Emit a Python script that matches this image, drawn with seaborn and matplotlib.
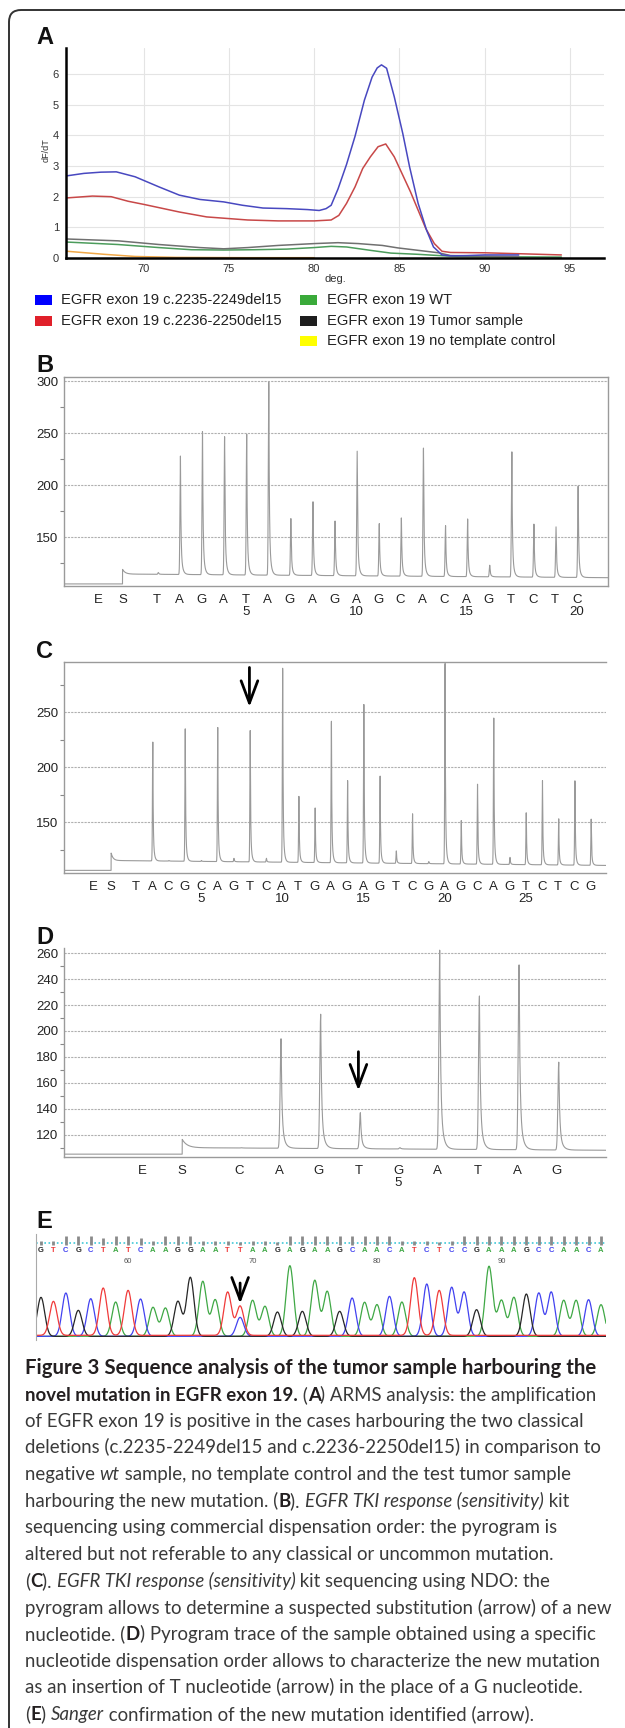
import numpy as np
import seaborn as sns
import matplotlib.pyplot as plt
from matplotlib.patches import FancyBboxPatch, Rectangle
from matplotlib.transforms import IdentityTransform
from matplotlib.ticker import MultipleLocator

sns.set_style("white")
plt.rcParams['font.family'] = ['Liberation Sans', 'DejaVu Sans']

W, H = 625, 1728

# ---------------- data ----------------
# A: melting curves, temperature (deg) vs dF/dT
blue_t = [65.5, 66.5, 67.5, 68.4, 69.5, 70.9, 72.1, 73.3, 74.7, 75.8, 77.0, 78.4, 79.6, 80.3, 80.7,
          81.0, 81.4, 81.9, 82.4, 82.95, 83.4, 83.7, 83.95, 84.25, 84.7, 85.2, 85.6, 86.1, 86.6,
          87.0, 87.5, 88.0, 89.0, 90.0, 91.0, 92.0]
blue_v = [2.68, 2.76, 2.8, 2.81, 2.65, 2.32, 2.05, 1.91, 1.83, 1.72, 1.63, 1.61, 1.58, 1.55, 1.61,
          1.72, 2.25, 3.05, 3.97, 5.15, 5.9, 6.2, 6.3, 6.19, 5.26, 4.06, 2.97, 1.78, 0.9,
          0.36, 0.1, 0.07, 0.08, 0.1, 0.1, 0.1]
red_t = [65.5, 67.0, 68.1, 69.1, 70.0, 72.1, 73.7, 74.9, 76.1, 77.9, 80.0, 81.0, 81.45, 81.9, 82.4,
         82.85, 83.3, 83.75, 84.2, 84.7, 85.15, 85.65, 86.1, 86.55, 87.05, 87.5, 88.0, 90.0, 92.0, 94.5]
red_v = [1.96, 2.02, 2.0, 1.85, 1.75, 1.5, 1.34, 1.29, 1.24, 1.21, 1.21, 1.24, 1.39, 1.78, 2.32,
         2.92, 3.3, 3.63, 3.72, 3.3, 2.76, 2.16, 1.56, 0.96, 0.47, 0.22, 0.18, 0.17, 0.14, 0.1]
tumor_t = [65.5, 68.5, 70.9, 73.3, 74.7, 76.1, 77.9, 80.0, 81.4, 82.6, 84.0, 84.9, 86.1, 87.3, 88.0, 90.0, 92.0]
tumor_v = [0.62, 0.56, 0.44, 0.34, 0.3, 0.34, 0.41, 0.47, 0.5, 0.47, 0.41, 0.33, 0.25, 0.17, 0.08, 0.06, 0.05]
wt_t = [65.5, 68.5, 70.9, 72.8, 74.7, 76.5, 78.4, 80.0, 81.0, 81.9, 83.3, 84.5, 86.1, 87.3, 88.4, 91.0, 94.5]
wt_v = [0.52, 0.44, 0.34, 0.27, 0.26, 0.27, 0.29, 0.34, 0.38, 0.36, 0.25, 0.16, 0.12, 0.08, 0.05, 0.04, 0.03]
ntc_t = [65.5, 67.7, 69.5, 71.9, 76.0, 80.0]
ntc_v = [0.22, 0.12, 0.05, 0.02, 0.01, 0.01]

legend_labels = ["EGFR exon 19 c.2235-2249del15", "EGFR exon 19 c.2236-2250del15",
                 "EGFR exon 19 WT", "EGFR exon 19 Tumor sample", "EGFR exon 19 no template control"]
legend_colors = ["#0000ff", "#e0202a", "#3aaa3a", "#1e1e1e", "#ffff00"]

# B: pyrogram, commercial dispensation order
B_disp = list("TAGATAGAGAGCACAGTCTC")
B_peaks = [116, 228, 253, 247, 249, 301, 168, 184, 166, 233, 163, 169, 236, 161, 168, 123, 232, 163, 160, 199]

# C: pyrogram, NDO
C_disp = list("TACGCAGTCATGAGAGTCGAGCAGTCTCG")
C_peaks = [114, 223, 115, 236, 115, 238, 117, 234, 117, 294, 174, 163, 243, 189, 258, 192, 124, 158,
           114, 295, 152, 185, 245, 118, 159, 188, 153, 189, 153]

# D: pyrogram, specific dispensation order
D_disp = list("CAGTGATAG")
D_peaks = [110, 194, 213, 137, 110, 263, 227, 251, 176]

# E: Sanger chromatogram
E_seq = list("GTCGCTATCAAGGAATTAAGAGAAGCAACATCTCCGAAAGCCAACA")
E_heights = [117, 102, 130, 78, 113, 142, 103, 135, 112, 87, 85, 105, 177, 165, 110, 130, 88, 108,
             90, 73, 212, 75, 168, 135, 75, 115, 102, 95, 120, 103, 173, 157, 135, 147, 133, 80,
             210, 108, 117, 127, 130, 133, 108, 108, 110, 95]
E_qual = [0.4, 0.4, 1, 1, 1, 0.8, 1, 1, 0.8, 0.4, 1, 1, 1, 0.5, 0.5, 0.5, 0.3, 0.4, 0.4, 0.3,
          1, 1, 1, 1, 1, 1, 1, 1, 1, 0.5, 0.5, 0.5, 0.3, 0.5, 1, 1, 1, 1, 1, 1, 1, 1, 1, 1, 1, 1]
E_numbers = {7: "60", 17: "70", 27: "80", 37: "90"}
E_second = [(16, "C", 57)]
base_colors = {"A": "#3fa845", "C": "#4242f0", "G": "#262626", "T": "#f03a3a"}


def box(l, t, r, b):
    return [l / W, 1 - b / H, (r - l) / W, (b - t) / H]


fig = plt.figure(figsize=(W / 100, H / 100), dpi=100)
fig.patch.set_facecolor("white")

# outer rounded frame
fig.patches.append(FancyBboxPatch((9, -30), 700, H - 10 + 30, boxstyle="round,pad=0,rounding_size=12",
                                  transform=IdentityTransform(), fill=False, ec="#333333", lw=1.4))

for lab, y in [("A", 37), ("B", 366), ("C", 651), ("D", 937), ("E", 1221)]:
    fig.text(36 / W, 1 - y / H, lab, fontsize=17, fontweight="bold", va="center", ha="left", color="#111")

# ---------------- A ----------------
axA = fig.add_axes(box(66, 48, 604, 258))
for t, v, c in [(ntc_t, ntc_v, "#f0a848"), (wt_t, wt_v, "#4c9c5c"), (tumor_t, tumor_v, "#707070"),
                (red_t, red_v, "#c84848"), (blue_t, blue_v, "#4848c0")]:
    sns.lineplot(x=t, y=v, ax=axA, color=c, lw=1.1, estimator=None, sort=False)
axA.set_xlim(65.45, 97)
axA.set_ylim(0, 6.85)
axA.set_xticks([70, 75, 80, 85, 90, 95])
axA.set_yticks(range(7))
axA.grid(True, color="#e4e4e4", lw=0.8)
for s in ["top", "right"]:
    axA.spines[s].set_visible(False)
for s in ["left", "bottom"]:
    axA.spines[s].set_color("black")
    axA.spines[s].set_linewidth(1.8)
axA.tick_params(axis="both", length=0, labelsize=8, labelcolor="#333")
axA.tick_params(axis="y", pad=5)
axA.tick_params(axis="x", pad=4)
axA.set_xlabel("deg.", fontsize=8, color="#333", labelpad=0)
axA.set_ylabel("")
fig.text(46 / W, 1 - 150 / H, "dF/dT", rotation=90, fontsize=6.5, color="#333", va="center", ha="center")

# legend
for i, (lab, col) in enumerate(zip(legend_labels, legend_colors)):
    cx, ty = (35, 61) if i < 2 else (300, 327)
    yc = [300, 321, 300, 321, 341][i]
    fig.patches.append(Rectangle((cx / W, 1 - (yc + 5) / H), 17 / W, 10 / H, transform=fig.transFigure,
                                 fc=col, ec="none"))
    fig.text(ty / W, 1 - yc / H, lab, fontsize=10.6, color="#222", va="center", ha="left")


# ---------------- pyrograms ----------------
def pyrogram(ax, disp, peaks, e_pos, s_pos, xlim, ylim, base, major, minor, top=True, right=False):
    xs = np.linspace(xlim[0], xlim[1], 6000)
    b_pre, b_s, b_start, b_end = base
    after = b_start + (b_end - b_start) * (xs - s_pos) / (xlim[1] - s_pos) + \
        (b_s - b_start) * np.exp(-np.clip(xs - s_pos, 0, None) / 0.12)
    baseline = np.where(xs < s_pos, b_pre, after)
    y = baseline.copy()
    pos = np.arange(1, len(disp) + 1) + 0.05
    for p, h in zip(pos, peaks):
        amp = h - np.interp(p, xs, baseline)
        if amp <= 0:
            continue
        dx = xs - p
        d = np.clip(dx, 0, None)
        shape = np.where(dx < 0, np.exp(-0.5 * (dx / 0.022) ** 2),
                         0.75 * np.exp(-d / 0.022) + 0.25 * np.exp(-d / 0.07))
        y += amp * shape
    sns.lineplot(x=xs, y=y, ax=ax, color="#9a9a9a", lw=0.8, estimator=None, sort=False)
    ax.set_xlim(*xlim)
    ax.set_ylim(*ylim)
    ticks = [e_pos, s_pos] + list(range(1, len(disp) + 1))
    labels = ["E", "S"] + [d + ("\n" + str(i) if i % 5 == 0 else "") for i, d in enumerate(disp, 1)]
    ax.set_xticks(ticks)
    ax.set_xticklabels(labels)
    for lbl in ax.get_xticklabels():
        lbl.set_linespacing(0.95)
    ax.yaxis.set_major_locator(MultipleLocator(major))
    ax.yaxis.set_minor_locator(MultipleLocator(minor))
    ax.set_yticks([t for t in ax.get_yticks() if ylim[0] < t <= ylim[1]])
    ax.yaxis.grid(True, which="major", ls=(0, (2, 1)), color="#b0b0b0", lw=0.8)
    ax.tick_params(axis="x", length=4, width=0.8, color="#888", pad=2, labelsize=9.5, labelcolor="#222")
    ax.tick_params(axis="y", which="major", length=0, pad=4, labelsize=9.5, labelcolor="#222")
    ax.tick_params(axis="y", which="minor", length=3, width=0.8, color="#888", left=True)
    for s in ax.spines.values():
        s.set_color("#9a9a9a")
        s.set_linewidth(1.0)
    ax.spines["top"].set_visible(top)
    ax.spines["right"].set_visible(right)
    ax.set_xlabel("")
    ax.set_ylabel("")


axB = fig.add_axes(box(64, 377, 608, 586))
pyrogram(axB, B_disp, B_peaks, -1.65, -0.57, (-3.22, 21.4), (103, 304), (105, 119, 114.5, 111),
         50, 25, top=True, right=True)

axC = fig.add_axes(box(64, 662, 606, 873))
pyrogram(axC, C_disp, C_peaks, -1.63, -0.52, (-3.42, 29.96), (103.6, 296), (106, 122, 115, 110.5),
         50, 25, top=True)
axC.annotate("", xy=(8, 255), xytext=(8, 291),
             arrowprops=dict(arrowstyle="->,head_length=0.8,head_width=0.3", lw=2, color="black",
                             mutation_scale=20, shrinkA=0, shrinkB=0))

axD = fig.add_axes(box(64, 948, 606, 1157))
pyrogram(axD, D_disp, D_peaks, -1.44, -0.44, (-3.42, 10.24), (102.8, 264), (105, 116.4, 110, 108),
         20, 10, top=False)
axD.annotate("", xy=(4, 154), xytext=(4, 184),
             arrowprops=dict(arrowstyle="->,head_length=0.8,head_width=0.3", lw=2, color="black",
                             mutation_scale=20, shrinkA=0, shrinkB=0))

# ---------------- E ----------------
axE = fig.add_axes(box(36, 1234, 606, 1340))
xe = np.linspace(-0.4, 45.4, 3000)
for base, col in base_colors.items():
    ye = np.full_like(xe, 5.0 if base == "T" else 2.0)
    for i, (b, h) in enumerate(zip(E_seq, E_heights)):
        if b == base:
            ye += h * np.exp(-0.5 * ((xe - i) / 0.3) ** 2)
    for i, b, h in E_second:
        if b == base:
            ye += h * np.exp(-0.5 * ((xe - i) / 0.3) ** 2)
    sns.lineplot(x=xe, y=ye, ax=axE, color=col, lw=0.9, estimator=None, sort=False)
axE.axhline(282, color="#40c8d8", ls=(0, (1, 1.5)), lw=1.2)
axE.vlines(range(len(E_seq)), 276, [276 + q * 27 for q in E_qual], color="#8a8a8a", lw=2)
for i, b in enumerate(E_seq):
    axE.text(i, 258, b, color=base_colors[b], fontsize=5.5, fontweight="bold", ha="center", va="center")
for i, n in E_numbers.items():
    axE.text(i, 226, n, color="#555", fontsize=5.5, ha="center", va="center")
axE.annotate("", xy=(16, 100), xytext=(16, 162),
             arrowprops=dict(arrowstyle="->,head_length=0.8,head_width=0.3", lw=2, color="black",
                             mutation_scale=20, shrinkA=0, shrinkB=0))
axE.set_xlim(-0.4, 45.4)
axE.set_ylim(-9, 309)
axE.set_xticks([])
axE.set_yticks([])
for s in ["top", "right", "bottom"]:
    axE.spines[s].set_visible(False)
axE.spines["left"].set_color("#aaaaaa")
axE.set_xlabel("")
axE.set_ylabel("")

# ---------------- caption ----------------
caption = [
    (1368, [("Figure 3 Sequence analysis of the tumor sample harbouring the", "b")]),
    (1395, [("novel mutation in EGFR exon 19.", "b"), (" (", "n"), ("A", "b"),
            (") ARMS analysis: the amplification", "n")]),
    (1421, [("of EGFR exon 19 is positive in the cases harbouring the two classical", "n")]),
    (1447, [("deletions (c.2235-2249del15 and c.2236-2250del15) in comparison to", "n")]),
    (1474, [("negative ", "n"), ("wt", "i"), (" sample, no template control and the test tumor sample", "n")]),
    (1501, [("harbouring the new mutation. (", "n"), ("B", "b"), ("). ", "n"),
            ("EGFR TKI response (sensitivity)", "i"), (" kit", "n")]),
    (1527, [("sequencing using commercial dispensation order: the pyrogram is", "n")]),
    (1554, [("altered but not referable to any classical or uncommon mutation.", "n")]),
    (1581, [("(", "n"), ("C", "b"), ("). ", "n"), ("EGFR TKI response (sensitivity)", "i"),
            (" kit sequencing using NDO: the", "n")]),
    (1608, [("pyrogram allows to determine a suspected substitution (arrow) of a new", "n")]),
    (1634, [("nucleotide. (", "n"), ("D", "b"), (") Pyrogram trace of the sample obtained using a specific", "n")]),
    (1661, [("nucleotide dispensation order allows to characterize the new mutation", "n")]),
    (1687, [("as an insertion of T nucleotide (arrow) in the place of a G nucleotide.", "n")]),
    (1714, [("(", "n"), ("E", "b"), (") ", "n"), ("Sanger", "i"),
            (" confirmation of the new mutation identified (arrow).", "n")]),
]

cap_font = ["Lato", "DejaVu Sans"]
renderer = fig.canvas.get_renderer()


def style(st, size):
    return dict(fontsize=size, family=cap_font, fontweight="bold" if st == "b" else "normal",
                fontstyle="italic" if st == "i" else "normal",
                color="#231f20" if st == "b" else "#3a3a3a")


def text_w(s, st, size):
    t1 = fig.text(0, 0, "|" + s + "|", **style(st, size))
    t2 = fig.text(0, 0, "||", **style(st, size))
    w = t1.get_window_extent(renderer).width - t2.get_window_extent(renderer).width
    t1.remove()
    t2.remove()
    return w


ref = caption[9][1][0][0]
cap_size = 12 * 585 / text_w(ref, "n", 12)
title_size = 12 * 569 / text_w(caption[0][1][0][0], "b", 12)

for k, (y, segs) in enumerate(caption):
    x = 25
    for s, st in segs:
        size = title_size if k == 0 else cap_size
        fig.text(x / W, 1 - (y + 6) / H, s, va="baseline", ha="left", **style(st, size))
        x += text_w(s, st, size)

fig.savefig("out.png", dpi=100)
